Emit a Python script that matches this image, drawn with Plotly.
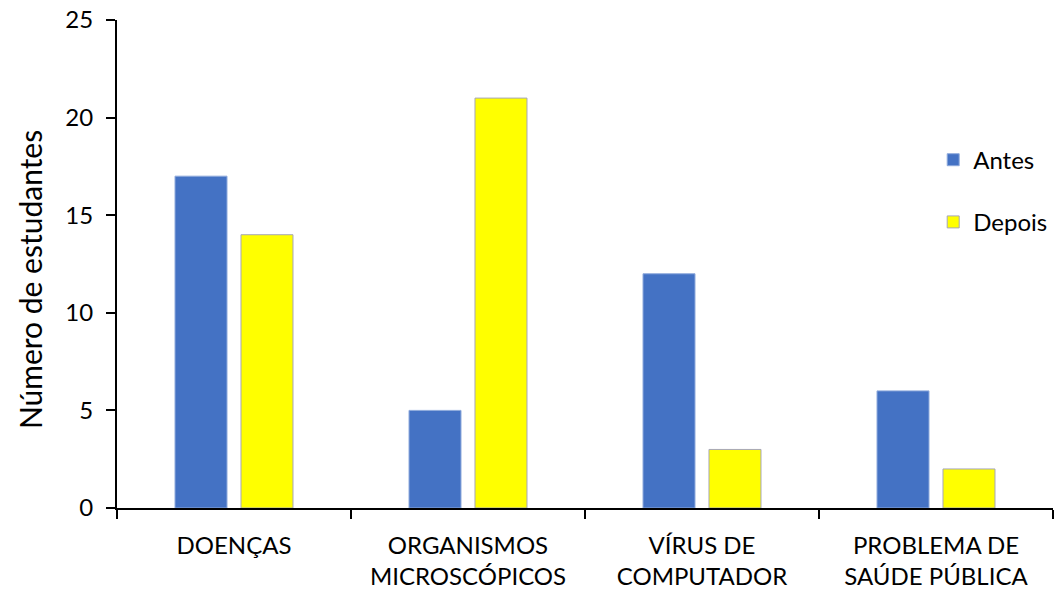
import plotly.graph_objects as go

categorias = ["DOENÇAS", "ORGANISMOS<br>MICROSCÓPICOS", "VÍRUS DE<br>COMPUTADOR", "PROBLEMA DE<br>SAÚDE PÚBLICA"]
antes = [17, 5, 12, 6]
depois = [14, 21, 3, 2]
titulo_y = "Número de estudantes"

fonte = "Lato, 'Open Sans', sans-serif"

fig = go.Figure()
fig.add_trace(go.Bar(
    x=categorias, y=antes, name="Antes", legendgroup="a",
    marker=dict(color="#4472C4", line=dict(color="#8FAADC", width=1)),
))
fig.add_trace(go.Bar(
    x=categorias, y=depois, name="Depois", legendgroup="d",
    marker=dict(color="#FFFF00", line=dict(color="#A6A6B8", width=1)),
))

fig.update_layout(
    width=1061, height=594,
    margin=dict(l=117, r=8, t=20, b=86, autoexpand=False),
    paper_bgcolor="white", plot_bgcolor="white",
    barmode="group", bargap=0.436, bargroupgap=0.212,
    font=dict(family=fonte, size=24, color="black"),
    showlegend=True,
    legend=dict(
        x=0.872, y=0.759, xanchor="left", yanchor="top",
        font=dict(size=24), traceorder="grouped", tracegroupgap=28,
        itemwidth=30, bgcolor="rgba(0,0,0,0)",
    ),
    xaxis=dict(
        type="category", tickson="boundaries",
        showline=True, linecolor="black", linewidth=2,
        ticks="outside", ticklen=9, tickwidth=2, tickcolor="black",
        tickfont=dict(size=24), showgrid=False, ticklabelstandoff=15,
    ),
    yaxis=dict(
        range=[0, 25], dtick=5, showline=True, linecolor="black", linewidth=2,
        ticks="outside", ticklen=9, tickwidth=2, tickcolor="black",
        showgrid=False, zeroline=False, tickfont=dict(size=24),
        ticklabelstandoff=8,
    ),
)

# Rotated y-axis title, placed slightly below the middle of the axis
fig.add_annotation(
    text=titulo_y, textangle=-90, showarrow=False,
    xref="paper", yref="paper", x=-0.093, y=0.469,
    xanchor="center", yanchor="middle",
    font=dict(size=30, family=fonte, color="black"),
)

fig.write_html("out.html")
